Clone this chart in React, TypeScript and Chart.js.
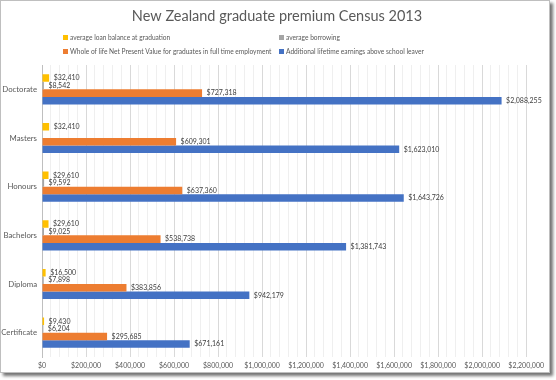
import React, { useEffect, useRef } from "react";
import { Chart, registerables } from "chart.js";

Chart.register(...registerables);

const TITLE = "New Zealand graduate premium Census 2013";
const categories = ["Doctorate", "Masters", "Honours", "Bachelors", "Diploma", "Certificate"];
const seriesNames = [
  "average loan balance at graduation",
  "average borrowing",
  "Whole of life Net Present Value for graduates in full time employment",
  "Additional lifetime earnings above school leaver",
];
const loanBalance = [32410, 32410, 29610, 29610, 16500, 9430];
const borrowing = [8542, null, 9592, 9025, 7898, 6204];
const netPresentValue = [727318, 609301, 637360, 538738, 383856, 295685];
const lifetimeEarnings = [2088255, 1623010, 1643726, 1381743, 942179, 671161];
const colors = ["#FFC000", "#A5A5A5", "#ED7D31", "#4472C4"];

const FONT = "Lato, 'Open Sans', sans-serif";

const fmt = (v: number) => "$" + Math.round(v).toLocaleString("en-US");

const overlayPlugin = {
  id: "overlay",
  afterDraw(chart: any) {
    const ctx = chart.ctx;
    ctx.save();
    // title
    ctx.fillStyle = "#595959";
    ctx.font = `14.5px ${FONT}`;
    ctx.textAlign = "center";
    ctx.textBaseline = "middle";
    ctx.fillText(TITLE, 276, 15);
    // legend
    ctx.font = `6.6px ${FONT}`;
    ctx.textAlign = "left";
    const pos = [
      [62, 36.5],
      [278, 36.5],
      [62, 50.5],
      [278, 50.5],
    ];
    seriesNames.forEach((n, i) => {
      const [x, y] = pos[i];
      ctx.fillStyle = colors[i];
      ctx.fillRect(x, y - 2.5, 5, 5);
      ctx.fillStyle = "#595959";
      ctx.fillText(n, x + 7, y);
    });
    ctx.restore();
  },
  afterDatasetsDraw(chart: any) {
    const ctx = chart.ctx;
    ctx.save();
    ctx.font = `7px ${FONT}`;
    ctx.fillStyle = "#404040";
    ctx.textAlign = "left";
    ctx.textBaseline = "middle";
    chart.data.datasets.forEach((ds: any, di: number) => {
      const meta = chart.getDatasetMeta(di);
      meta.data.forEach((el: any, i: number) => {
        const v = ds.data[i];
        if (v === null || v === undefined) return;
        ctx.fillText(fmt(v), el.x + 4.5, el.y);
      });
    });
    ctx.restore();
  },
};

export default function App() {
  const ref = useRef<HTMLCanvasElement>(null);
  useEffect(() => {
    if (!ref.current) return;
    const chart = new Chart(ref.current, {
      type: "bar",
      data: {
        labels: categories,
        datasets: [loanBalance, borrowing, netPresentValue, lifetimeEarnings].map((d, i) => ({
          label: seriesNames[i],
          data: d,
          backgroundColor: colors[i],
          borderWidth: 0,
          categoryPercentage: 0.62,
          barPercentage: 1,
        })),
      },
      options: {
        indexAxis: "y",
        animation: false,
        responsive: true,
        maintainAspectRatio: false,
        layout: { padding: { top: 64, right: 22, left: 0, bottom: 0 } },
        plugins: {
          legend: { display: false },
          title: { display: false },
          tooltip: { enabled: false },
        },
        scales: {
          x: {
            min: 0,
            max: 2200000,
            afterFit: (s: any) => {
              s.height = 15;
            },
            border: { display: false },
            grid: {
              drawTicks: false,
              color: (c: any) =>
                Math.round(c.tick.value) % 200000 === 0 ? "#d9d9d9" : "#efefef",
            },
            ticks: {
              stepSize: 40000,
              autoSkip: false,
              maxRotation: 0,
              padding: 5,
              color: "#595959",
              font: { family: FONT, size: 7 },
              callback: (v: any) => (Math.round(v) % 200000 === 0 ? fmt(v) : ""),
            },
          },
          y: {
            afterFit: (s: any) => {
              s.width = 41;
            },
            border: { display: true, color: "#bfbfbf" },
            grid: { display: false, drawTicks: false },
            ticks: {
              padding: 5,
              color: "#595959",
              font: { family: FONT, size: 7.8 },
            },
          },
        },
      },
      plugins: [overlayPlugin],
    });
    return () => chart.destroy();
  }, []);
  return (
    <div style={{ position: "fixed", left: 0, top: 0, width: 556, height: 380, background: "#fff" }}>
      <div
        style={{
          position: "absolute",
          left: 0,
          top: 0,
          width: 548,
          height: 371,
          border: "1px solid #bfbfbf",
          boxShadow: "3px 3px 3px rgba(0,0,0,0.55)",
          background: "#fff",
        }}
      >
        <canvas ref={ref} />
      </div>
    </div>
  );
}
